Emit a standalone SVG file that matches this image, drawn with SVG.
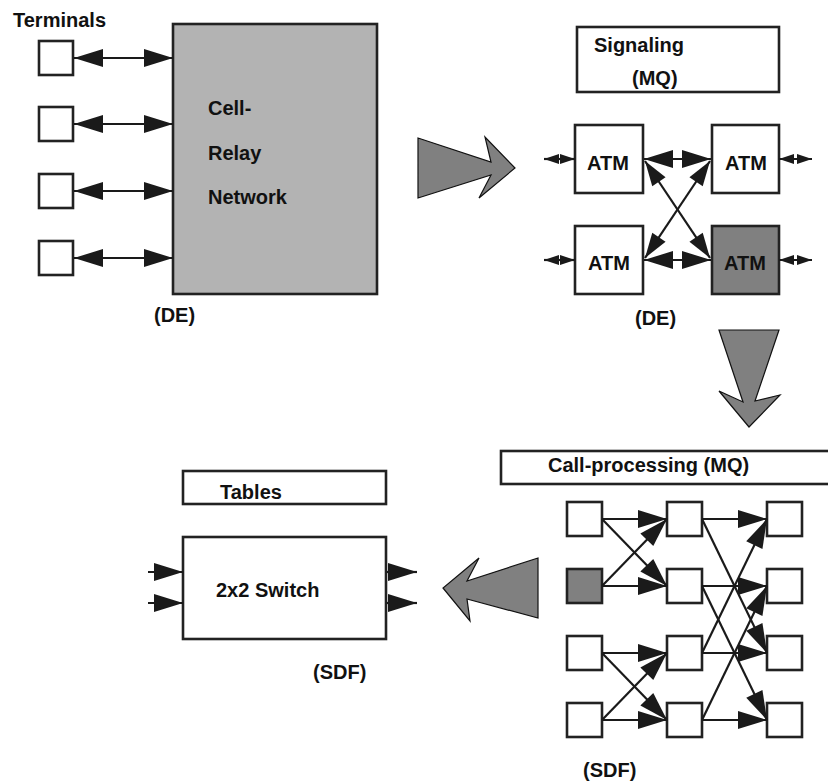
<svg xmlns="http://www.w3.org/2000/svg" width="828" height="784" viewBox="0 0 828 784">
<defs>
<style>
text{font-family:"Liberation Sans",Arial,sans-serif;font-weight:bold;font-size:20px;fill:#111}
.box{fill:#fff;stroke:#222;stroke-width:2.6}
.grey{fill:#808080}
.big{fill:#b3b3b3}
.fat{fill:#808080;stroke:#111;stroke-width:1.2}
.ln{stroke:#1a1a1a;stroke-width:2.2;fill:none}
.a2{marker-start:url(#ah);marker-end:url(#ah)}
.a1{marker-end:url(#ah)}
.ad{marker-start:url(#ahd);marker-end:url(#ahd)}
.as{marker-start:url(#ahs);marker-end:url(#ahs)}
</style>
<marker id="ah" markerUnits="userSpaceOnUse" markerWidth="30" markerHeight="18" refX="29" refY="9" orient="auto-start-reverse" overflow="visible"><path d="M0,0 L29,9 L0,18 z" fill="#1a1a1a"/></marker>
<marker id="ahd" markerUnits="userSpaceOnUse" markerWidth="26" markerHeight="16" refX="25" refY="8" orient="auto-start-reverse" overflow="visible"><path d="M0,0 L25,8 L0,16 z" fill="#1a1a1a"/></marker>
<marker id="ahs" markerUnits="userSpaceOnUse" markerWidth="16" markerHeight="10" refX="15" refY="5" orient="auto-start-reverse" overflow="visible"><path d="M0,0 L15,5 L0,10 z" fill="#1a1a1a"/></marker>
</defs>

<g id="terminals-label"><text x="13" y="27">Terminals</text></g>
<g id="term1"><rect class="box" x="39" y="41" width="34" height="34"/></g>
<g id="term2"><rect class="box" x="39" y="107" width="34" height="34"/></g>
<g id="term3"><rect class="box" x="39" y="174" width="34" height="34"/></g>
<g id="term4"><rect class="box" x="39" y="241" width="34" height="34"/></g>
<g id="cell-relay">
<rect class="box big" x="173" y="24" width="204" height="270"/>
<text x="208" y="115">Cell-</text>
<text x="208" y="160">Relay</text>
<text x="208" y="204">Network</text>
</g>
<g id="de-left"><text x="154" y="322">(DE)</text></g>

<g id="signaling"><rect class="box" x="577" y="27" width="202" height="65"/>
<text x="594" y="52">Signaling</text><text x="632" y="85">(MQ)</text></g>
<g id="atm1"><rect class="box" x="575" y="125" width="68" height="68"/><text x="587" y="170">ATM</text></g>
<g id="atm2"><rect class="box" x="712" y="125" width="67" height="68"/><text x="725" y="170">ATM</text></g>
<g id="atm3"><rect class="box" x="575" y="226" width="68" height="68"/><text x="588" y="270">ATM</text></g>
<g id="atm4"><rect class="box grey" x="712" y="226" width="67" height="68"/><text x="724" y="270">ATM</text></g>
<g id="de-right"><text x="635" y="325">(DE)</text></g>

<g id="callproc"><rect class="box" x="501" y="451" width="330" height="33"/><text x="548" y="472">Call-processing (MQ)</text></g>
<g id="net">
<rect class="box" x="567" y="502" width="35" height="34"/>
<rect class="box grey" x="567" y="569" width="35" height="34"/>
<rect class="box" x="567" y="636" width="35" height="34"/>
<rect class="box" x="567" y="703" width="35" height="34"/>
<rect class="box" x="667" y="502" width="35" height="34"/>
<rect class="box" x="667" y="569" width="35" height="34"/>
<rect class="box" x="667" y="636" width="35" height="34"/>
<rect class="box" x="667" y="703" width="35" height="34"/>
<rect class="box" x="767" y="502" width="35" height="34"/>
<rect class="box" x="767" y="569" width="35" height="34"/>
<rect class="box" x="767" y="636" width="35" height="34"/>
<rect class="box" x="767" y="703" width="35" height="34"/>
</g>
<g id="sdf-right"><text x="583" y="777">(SDF)</text></g>

<g id="tables"><rect class="box" x="183" y="471" width="203" height="33"/><text x="220" y="499">Tables</text></g>
<g id="switch"><rect class="box" x="183" y="537" width="203" height="102"/><text x="216" y="597">2x2 Switch</text></g>
<g id="sdf-left"><text x="313" y="679">(SDF)</text></g>

<g id="big-arrows">
<polygon class="fat" points="418,138 491,162 485,137 515,168 479,198 491,175 418,198"/>
<polygon class="fat" points="719,330 779,330 755,401 780,395 749,427 719,391 743,402"/>
<polygon class="fat" points="538,558 467,581 479,558 443,588 470,621 467,599 538,618"/>
</g>

<g id="connectors">
<line class="ln a2" x1="74" y1="58" x2="173" y2="58"/>
<line class="ln a2" x1="74" y1="124" x2="173" y2="124"/>
<line class="ln a2" x1="74" y1="191" x2="173" y2="191"/>
<line class="ln a2" x1="74" y1="258" x2="173" y2="258"/>

<line class="ln as" x1="544" y1="159" x2="575" y2="159"/>
<line class="ln as" x1="779" y1="159" x2="812" y2="159"/>
<line class="ln as" x1="544" y1="260" x2="575" y2="260"/>
<line class="ln as" x1="779" y1="260" x2="812" y2="260"/>
<line class="ln a2" x1="644" y1="159" x2="711" y2="159"/>
<line class="ln a2" x1="644" y1="260" x2="711" y2="260"/>
<line class="ln ad" x1="645" y1="161" x2="710" y2="258"/>
<line class="ln ad" x1="710" y1="161" x2="645" y2="258"/>

<line class="ln a1" x1="602" y1="519" x2="667" y2="519"/>
<line class="ln a1" x1="602" y1="519" x2="667" y2="586"/>
<line class="ln a1" x1="602" y1="586" x2="667" y2="519"/>
<line class="ln a1" x1="602" y1="586" x2="667" y2="586"/>
<line class="ln a1" x1="602" y1="653" x2="667" y2="653"/>
<line class="ln a1" x1="602" y1="653" x2="667" y2="720"/>
<line class="ln a1" x1="602" y1="720" x2="667" y2="653"/>
<line class="ln a1" x1="602" y1="720" x2="667" y2="720"/>

<line class="ln a1" x1="702" y1="519" x2="767" y2="519"/>
<line class="ln a1" x1="702" y1="519" x2="767" y2="653"/>
<line class="ln a1" x1="702" y1="586" x2="767" y2="586"/>
<line class="ln a1" x1="702" y1="586" x2="767" y2="720"/>
<line class="ln a1" x1="702" y1="653" x2="767" y2="519"/>
<line class="ln a1" x1="702" y1="653" x2="767" y2="653"/>
<line class="ln a1" x1="702" y1="720" x2="767" y2="586"/>
<line class="ln a1" x1="702" y1="720" x2="767" y2="720"/>

<line class="ln a1" x1="148" y1="572" x2="183" y2="572"/>
<line class="ln a1" x1="148" y1="603" x2="183" y2="603"/>
<line class="ln a1" x1="387" y1="572" x2="417" y2="572"/>
<line class="ln a1" x1="387" y1="603" x2="417" y2="603"/>
</g>
</svg>
